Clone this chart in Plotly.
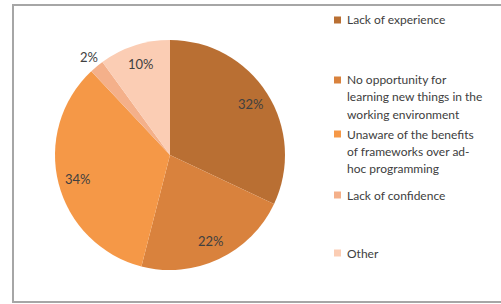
import math
import plotly.graph_objects as go

labels = ["Lack of experience",
          "No opportunity for learning new things in the working environment",
          "Unaware of the benefits of frameworks over ad-hoc programming",
          "Lack of confidence",
          "Other"]
legend_lines = [["Lack of experience"],
                ["No opportunity for", "learning new things in the", "working environment"],
                ["Unaware of the benefits", "of frameworks over ad-", "hoc programming"],
                ["Lack of confidence"],
                ["Other"]]
values = [32, 22, 34, 2, 10]
colors = ["#B96F33", "#D9823D", "#F59847", "#F4B08A", "#FBCDB4"]
label_outside = [False, False, False, True, False]

W, H = 501, 304
CX, CY, R = 170, 155, 115
fig = go.Figure(go.Pie(
    labels=labels, values=values, sort=False, direction="clockwise", rotation=0,
    marker=dict(colors=colors, line=dict(width=0)),
    textinfo="none",
    domain=dict(x=[(CX - R) / W, (CX + R) / W], y=[1 - (CY + R) / H, 1 - (CY - R) / H]),
    showlegend=False, hoverinfo="label+percent",
))

shapes = [dict(type="rect", xref="paper", yref="paper",
               x0=13 / W, x1=1.02, y0=1 - 302 / H, y1=1 - 5 / H,
               line=dict(color="#A6A6A6", width=2), fillcolor="rgba(0,0,0,0)")]
annotations = []

# percent labels placed at each slice's mid-angle
total = sum(values)
cum = 0
for v, out in zip(values, label_outside):
    mid = (cum + v / 2) / total * 2 * math.pi
    cum += v
    r = R * (1.11 if out else 0.83)
    px = CX + r * math.sin(mid)
    py = CY - r * math.cos(mid)
    annotations.append(dict(text=f"{round(100 * v / total)}%", xref="paper", yref="paper",
                            x=px / W, y=1 - py / H, xanchor="center", yanchor="middle",
                            showarrow=False,
                            font=dict(family="Lato", size=13, color="#404040")))

item_y = [20, 80, 134, 195, 253]
for lines, c, yy in zip(legend_lines, colors, item_y):
    shapes.append(dict(type="rect", xref="paper", yref="paper",
                       x0=334 / W, x1=341 / W, y0=1 - (yy + 3.5) / H, y1=1 - (yy - 3.5) / H,
                       line=dict(width=0), fillcolor=c))
    for i, ln in enumerate(lines):
        annotations.append(dict(text=ln, xref="paper", yref="paper",
                                x=345 / W, y=1 - (yy + 17 * i) / H,
                                xanchor="left", yanchor="middle", showarrow=False,
                                font=dict(family="Lato", size=12, color="#404040")))

fig.update_layout(width=W, height=H, margin=dict(l=0, r=0, t=0, b=0),
                  paper_bgcolor="white", plot_bgcolor="white",
                  shapes=shapes, annotations=annotations)
fig.write_html("out.html", config={"displayModeBar": False},
               post_script="document.body.style.margin='0';")
